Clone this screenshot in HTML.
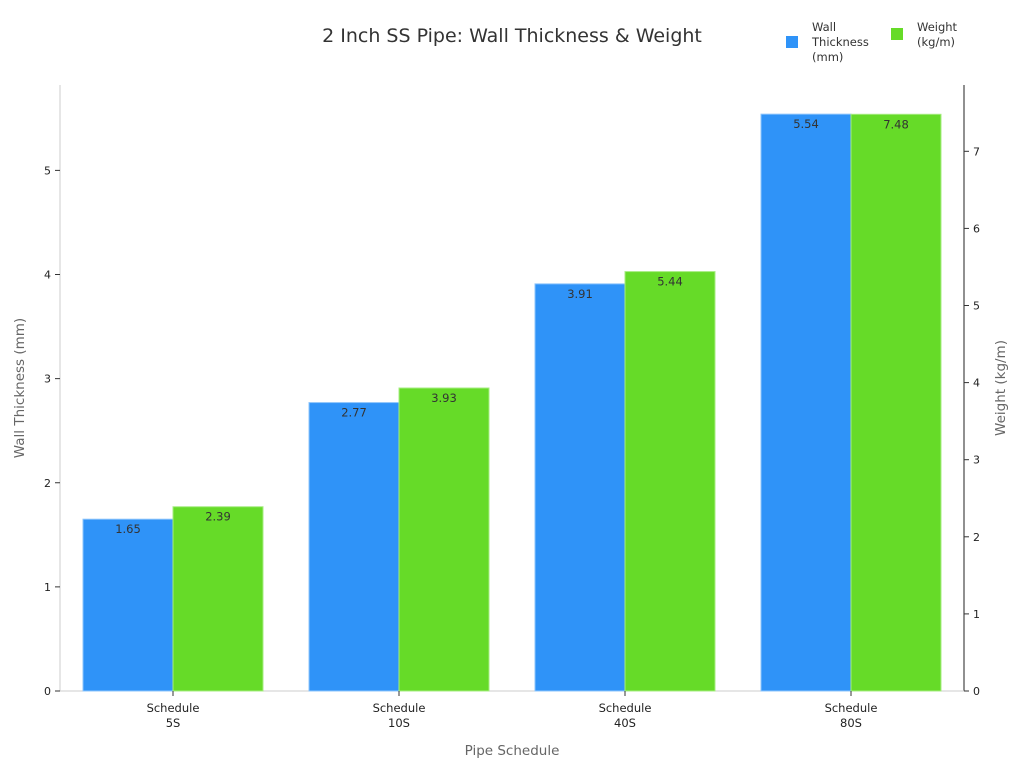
<!DOCTYPE html>
<html><head><meta charset="utf-8"><style>
body{margin:0;background:#fff;font-family:"DejaVu Sans","Liberation Sans",sans-serif}
svg text{font-family:"DejaVu Sans","Liberation Sans",sans-serif}
</style></head><body>
<svg id="c" width="1024" height="768"></svg>
<script>
const categories=["Schedule\n5S","Schedule\n10S","Schedule\n40S","Schedule\n80S"];
const thickness=[1.65,2.77,3.91,5.54];
const weight=[2.39,3.93,5.44,7.48];
const leftTicks=[0,1,2,3,4,5];
const rightTicks=[0,1,2,3,4,5,6,7];
const NS="http://www.w3.org/2000/svg";
const svg=document.getElementById('c');
const X0=60,X1=964,Y0=691,Ytop=85;
const yL=v=>Y0-v*(Y0-Ytop)/5.82;
const yR=v=>Y0-v*(Y0-Ytop)/7.86;
const band=(X1-X0)/categories.length;
const xc=i=>X0+band*(i+0.5);
function el(t,a,p){const e=document.createElementNS(NS,t);for(const k in a)e.setAttribute(k,a[k]);(p||svg).appendChild(e);return e;}
function txt(s,a,name){const e=el('text',a);e.textContent=s;return e;}
let t=txt("2 Inch SS Pipe: Wall Thickness & Weight",{x:512,y:42,'text-anchor':'middle','font-size':19,fill:'#333'},'chart-title');
// axes
let a=el('line',{x1:X0,y1:Ytop,x2:X0,y2:Y0,stroke:'#ccc'});
a=el('line',{x1:X1,y1:Ytop,x2:X1,y2:Y0,stroke:'#222'});
a=el('line',{x1:X0,y1:Y0,x2:X1,y2:Y0,stroke:'#ccc'});
leftTicks.forEach(v=>{el('line',{x1:X0-5,x2:X0,y1:yL(v),y2:yL(v),stroke:'#333'});txt(v,{x:X0-9,y:yL(v)+4,'text-anchor':'end','font-size':11,fill:'#222'},'left-tick-label');});
rightTicks.forEach(v=>{el('line',{x1:X1,x2:X1+5,y1:yR(v),y2:yR(v),stroke:'#333'});txt(v,{x:X1+9,y:yR(v)+4,'font-size':11,fill:'#222'},'right-tick-label');});
const bw=90;
categories.forEach((c,i)=>{
  const x=xc(i);
  let r=el('rect',{x:x-bw,y:yL(thickness[i]),width:bw,height:Y0-yL(thickness[i]),fill:'#2f93f8',stroke:'#8cc4fb','stroke-width':1});
  
  txt(thickness[i].toFixed(2),{x:x-bw/2,y:yL(thickness[i])+14,'text-anchor':'middle','font-size':11.5,fill:'#333'},'value-label');
  r=el('rect',{x:x,y:yR(weight[i]),width:bw,height:Y0-yR(weight[i]),fill:'#66db28',stroke:'#a6ec80','stroke-width':1});
  
  txt(weight[i].toFixed(2),{x:x+bw/2,y:yR(weight[i])+14,'text-anchor':'middle','font-size':11.5,fill:'#333'},'value-label');
  el('line',{x1:x,x2:x,y1:Y0,y2:Y0+5,stroke:'#333'});
  const p=c.split("\n");
  txt(p[0],{x:x,y:712,'text-anchor':'middle','font-size':11.5,fill:'#222'},'x-tick-label');
  txt(p[1],{x:x,y:727,'text-anchor':'middle','font-size':11.5,fill:'#222'},'x-tick-label');
});
txt("Pipe Schedule",{x:512,y:755,'text-anchor':'middle','font-size':13.5,fill:'#666'},'x-axis-title');
txt("Wall Thickness (mm)",{x:0,y:0,transform:'translate(24,388) rotate(-90)','text-anchor':'middle','font-size':13.5,fill:'#666'},'y-axis-title-left');
txt("Weight (kg/m)",{x:0,y:0,transform:'translate(1005,388) rotate(-90)','text-anchor':'middle','font-size':13.5,fill:'#666'},'y-axis-title-right');
// legend
let l=el('rect',{x:786,y:36,width:12,height:12,fill:'#2f93f8'});
["Wall","Thickness","(mm)"].forEach((s,k)=>txt(s,{x:812,y:31+k*15,'font-size':11.5,fill:'#333'},'legend-label'));
l=el('rect',{x:891,y:28,width:12,height:12,fill:'#66db28'});
["Weight","(kg/m)"].forEach((s,k)=>txt(s,{x:917,y:31+k*15,'font-size':11.5,fill:'#333'},'legend-label'));
</script>
</body></html>
